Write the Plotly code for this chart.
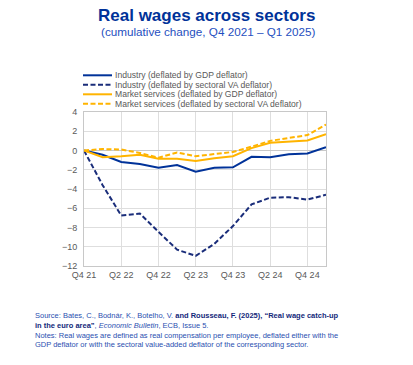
import plotly.graph_objects as go

quarters = ["Q4 21", "Q1 22", "Q2 22", "Q3 22", "Q4 22", "Q1 23", "Q2 23",
            "Q3 23", "Q4 23", "Q1 24", "Q2 24", "Q3 24", "Q4 24", "Q1 25"]
industry_gdp = [0, -0.45, -1.2, -1.4, -1.8, -1.5, -2.2, -1.8, -1.75, -0.65, -0.7, -0.4, -0.3, 0.35]
industry_va = [0, -3.6, -6.75, -6.55, -8.45, -10.3, -10.95, -9.7, -7.85, -5.6, -4.9, -4.85, -5.1, -4.6]
market_gdp = [0, -0.7, -0.6, -0.45, -0.85, -0.85, -1.1, -0.8, -0.6, 0.25, 0.8, 0.95, 1.05, 1.7]
market_va = [0, 0.15, 0.1, -0.25, -0.75, -0.2, -0.6, -0.35, -0.15, 0.4, 1.0, 1.3, 1.6, 2.7]
series_names = ["Industry (deflated by GDP deflator)",
                "Industry (deflated by sectoral VA deflator)",
                "Market services (deflated by GDP deflator)",
                "Market services (deflated by sectoral VA deflator)"]
tick_labels = ["Q4 21", "Q2 22", "Q4 22", "Q2 23", "Q4 23", "Q2 24", "Q4 24"]
y_ticks = [4, 2, 0, -2, -4, -6, -8, -10, -12]

NAVY = "#003299"
NAVY_D = "#1a2d7a"
GOLD = "#FFB400"
DASH = "5px,2.5px"

X0, X1, Y0, Y1 = 84, 326, 112, 266


def px_x(p):
    return (p - X0) / (X1 - X0)


def px_y(p):
    return (Y1 - p) / (Y1 - Y0)


styles = [dict(color=NAVY, width=2),
          dict(color=NAVY_D, width=2, dash=DASH),
          dict(color=GOLD, width=2),
          dict(color=GOLD, width=2, dash=DASH)]
data = [industry_gdp, industry_va, market_gdp, market_va]

fig = go.Figure()
for name, vals, st in zip(series_names, data, styles):
    fig.add_trace(go.Scatter(x=quarters, y=vals, mode="lines", name=name,
                             line=st, showlegend=False))

fig.update_layout(
    width=413, height=365,
    margin=dict(l=X0, r=413 - X1, t=Y0, b=365 - Y1, autoexpand=False),
    paper_bgcolor="white", plot_bgcolor="white",
    font=dict(family="Liberation Sans, Arial", color="#595959", size=9),
    showlegend=False,
    xaxis=dict(type="category", categoryorder="array", categoryarray=quarters,
               range=[0, 13], tickmode="array", tickvals=tick_labels, ticktext=tick_labels,
               showgrid=True, gridcolor="#dedede", gridwidth=1,
               showline=True, linecolor="#c8c8c8", mirror=True,
               ticks="", tickfont=dict(size=9, color="#595959"), zeroline=False),
    yaxis=dict(range=[-12, 4], tickmode="array", tickvals=y_ticks,
               showgrid=True, gridcolor="#dedede", gridwidth=1,
               showline=True, linecolor="#c8c8c8", mirror=True,
               zeroline=True, zerolinecolor="#c8c8c8", zerolinewidth=1,
               ticks="", ticklabelstandoff=4, tickfont=dict(size=9, color="#595959")),
)

# legend (manual, to match compact spacing)
rows = [75.3, 84.8, 94.3, 103.8]
for name, st, ry in zip(series_names, styles, rows):
    fig.add_shape(type="line", xref="paper", yref="paper",
                  x0=px_x(83), x1=px_x(112), y0=px_y(ry), y1=px_y(ry),
                  line=dict(color=st["color"], width=2, dash=st.get("dash", "solid")))
    fig.add_annotation(text=name, x=px_x(113), y=px_y(ry), xref="paper", yref="paper",
                       showarrow=False, xanchor="left", yanchor="middle",
                       font=dict(size=8.6, color="#595959"))

fig.add_annotation(text="<b>Real wages across sectors</b>", x=px_x(206.5), y=px_y(15),
                   xref="paper", yref="paper", showarrow=False, xanchor="center", yanchor="middle",
                   font=dict(size=17, color=NAVY, family="Liberation Sans, Arial"))
fig.add_annotation(text="(cumulative change, Q4 2021 \u2013 Q1 2025)", x=px_x(208), y=px_y(31),
                   xref="paper", yref="paper", showarrow=False, xanchor="center", yanchor="middle",
                   font=dict(size=11.7, color="#1f4fc0", family="Liberation Sans, Arial"))

DARK = "#13287a"
foot = ("Source: Bates, C., Bodnár, K., Botelho, V. "
        f"<span style='color:{DARK}'><b>and Rousseau, F. (2025), \u201cReal wage catch-up</b></span><br>"
        f"<span style='color:{DARK}'><b>in the euro area\u201d</b></span>, <i>Economic Bulletin</i>, ECB, Issue 5.<br>"
        "Notes: Real wages are defined as real compensation per employee, deflated either with the<br>"
        "GDP deflator or with the sectoral value-added deflator of the corresponding sector.")
fig.add_annotation(text=foot, x=px_x(33), y=px_y(309), xref="paper", yref="paper",
                   showarrow=False, xanchor="left", yanchor="top", align="left",
                   font=dict(size=7.5, color="#2a4fb0", family="Liberation Sans, Arial"))

fig.write_html("out.html", config={"displayModeBar": False},
               post_script="document.body.style.margin='0';")
